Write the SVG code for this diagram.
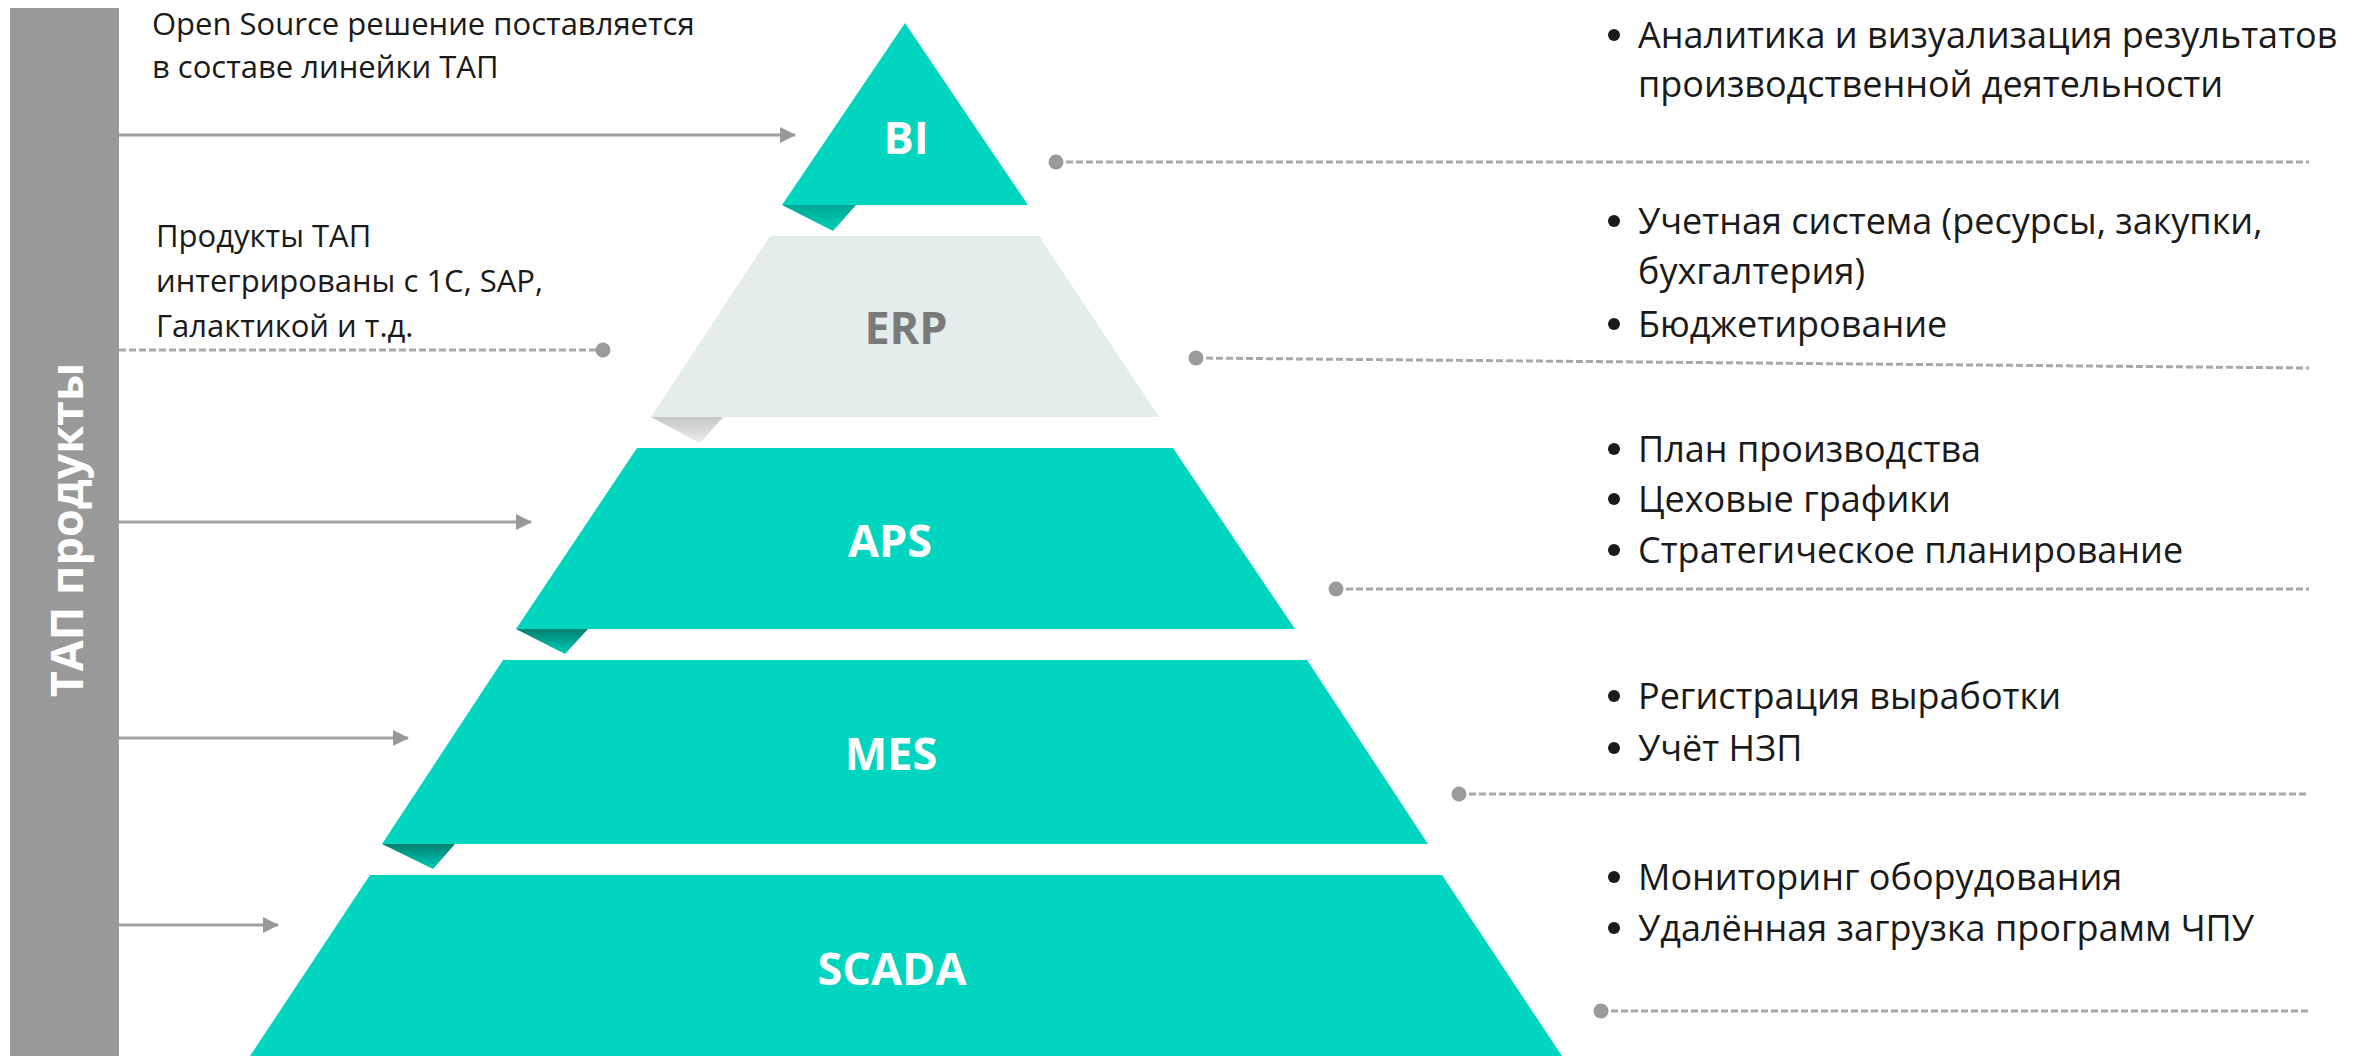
<svg xmlns="http://www.w3.org/2000/svg" width="2361" height="1056" viewBox="0 0 2361 1056">
  <defs>
    <linearGradient id="foldTeal" x1="0" y1="0" x2="0" y2="1">
      <stop offset="0" stop-color="#00806f"/>
      <stop offset="1" stop-color="#00cdb8"/>
    </linearGradient>
    <linearGradient id="foldTealLight" x1="0" y1="0" x2="0" y2="1">
      <stop offset="0" stop-color="#00a793"/>
      <stop offset="1" stop-color="#00d0bb"/>
    </linearGradient>
    <linearGradient id="foldGray" x1="0" y1="0" x2="0" y2="1">
      <stop offset="0" stop-color="#c4c6c6"/>
      <stop offset="1" stop-color="#ececec"/>
    </linearGradient>
    <marker id="arrow" viewBox="0 0 16 16" refX="15" refY="8" markerWidth="16" markerHeight="16" markerUnits="userSpaceOnUse" orient="auto">
      <path d="M0,0 L16,8 L0,16 Z" fill="#999999"/>
    </marker>
  </defs>
  <style>
    .tier { fill: #00d5bf; }
    .tier-erp { fill: #e5edec; }
    .tier-label { font-family: "Open Sans", "Liberation Sans", sans-serif; font-weight: 700; font-size: 45px; fill: #ffffff; text-anchor: middle; }
    .tier-label-erp { fill: #7a7a7a; }
    .note { font-family: "Open Sans", "Liberation Sans", sans-serif; font-size: 31px; fill: #1a1a1a; }
    .desc { font-family: "Open Sans", "Liberation Sans", sans-serif; font-size: 36px; fill: #1a1a1a; }
    .bullet { fill: #1a1a1a; }
    .arrow-line { stroke: #a0a0a0; stroke-width: 3; fill: none; }
    .dash-line { stroke: #a8a8a8; stroke-width: 3; stroke-dasharray: 7 3; fill: none; }
    .dot { fill: #9a9a9a; }
  </style>

  <rect width="2361" height="1056" fill="#ffffff"/>

  <!-- side bar -->
  <g id="side-bar">
    <rect x="10" y="8" width="109" height="1048" fill="#999999"/>
    <text transform="translate(83,530) rotate(-90)" text-anchor="middle" font-family="Open Sans, Liberation Sans, sans-serif" font-weight="700" font-size="45" fill="#ffffff">ТАП продукты</text>
  </g>

  <!-- pyramid tiers -->
  <g id="tier-bi">
    <polygon class="tier" points="905,23 1028,205 782,205"/>
    <polygon fill="url(#foldTealLight)" points="782,205 856,205 833,231"/>
    <text class="tier-label" x="906" y="154">BI</text>
  </g>
  <g id="tier-erp">
    <polygon class="tier-erp" points="770,236 1039,236 1159,417 651,417"/>
    <polygon fill="url(#foldGray)" points="651,417 723,417 700,443"/>
    <text class="tier-label tier-label-erp" x="906" y="344">ERP</text>
  </g>
  <g id="tier-aps">
    <polygon class="tier" points="637,448 1173,448 1295,629 516,629"/>
    <polygon fill="url(#foldTeal)" points="516,629 588,629 565,654"/>
    <text class="tier-label" x="890" y="557">APS</text>
  </g>
  <g id="tier-mes">
    <polygon class="tier" points="503,660 1307,660 1428,844 382,844"/>
    <polygon fill="url(#foldTeal)" points="382,844 455,844 433,869"/>
    <text class="tier-label" x="891" y="770">MES</text>
  </g>
  <g id="tier-scada">
    <polygon class="tier" points="370,875 1442,875 1562,1056 250,1056"/>
    <text class="tier-label" x="892" y="985">SCADA</text>
  </g>

  <!-- left notes -->
  <g id="note-open-source">
    <text class="note" x="152" y="35">Open Source решение поставляется</text>
    <text class="note" x="152" y="78">в составе линейки ТАП</text>
  </g>
  <g id="note-integration">
    <text class="note" x="156" y="247">Продукты ТАП</text>
    <text class="note" x="156" y="292">интегрированы с 1С, SAP,</text>
    <text class="note" x="156" y="337">Галактикой и т.д.</text>
  </g>

  <!-- right descriptions -->
  <g id="desc-bi">
    <circle class="bullet" cx="1614" cy="35" r="6"/>
    <text class="desc" x="1638" y="48">Аналитика и визуализация результатов</text>
    <text class="desc" x="1638" y="97">производственной деятельности</text>
  </g>
  <g id="desc-erp">
    <circle class="bullet" cx="1614" cy="221" r="6"/>
    <text class="desc" x="1638" y="234">Учетная система (ресурсы, закупки,</text>
    <text class="desc" x="1638" y="284">бухгалтерия)</text>
    <circle class="bullet" cx="1614" cy="324" r="6"/>
    <text class="desc" x="1638" y="337">Бюджетирование</text>
  </g>
  <g id="desc-aps">
    <circle class="bullet" cx="1614" cy="449" r="6"/>
    <text class="desc" x="1638" y="462">План производства</text>
    <circle class="bullet" cx="1614" cy="499" r="6"/>
    <text class="desc" x="1638" y="512">Цеховые графики</text>
    <circle class="bullet" cx="1614" cy="550" r="6"/>
    <text class="desc" x="1638" y="563">Стратегическое планирование</text>
  </g>
  <g id="desc-mes">
    <circle class="bullet" cx="1614" cy="696" r="6"/>
    <text class="desc" x="1638" y="709">Регистрация выработки</text>
    <circle class="bullet" cx="1614" cy="748" r="6"/>
    <text class="desc" x="1638" y="761">Учёт НЗП</text>
  </g>
  <g id="desc-scada">
    <circle class="bullet" cx="1614" cy="877" r="6"/>
    <text class="desc" x="1638" y="890">Мониторинг оборудования</text>
    <circle class="bullet" cx="1614" cy="928" r="6"/>
    <text class="desc" x="1638" y="941">Удалённая загрузка программ ЧПУ</text>
  </g>

  <!-- connectors -->
  <g id="connectors">
    <line class="arrow-line" x1="119" y1="135" x2="795" y2="135" marker-end="url(#arrow)"/>
    <line class="arrow-line" x1="119" y1="522" x2="531" y2="522" marker-end="url(#arrow)"/>
    <line class="arrow-line" x1="119" y1="738" x2="408" y2="738" marker-end="url(#arrow)"/>
    <line class="arrow-line" x1="119" y1="925" x2="278" y2="925" marker-end="url(#arrow)"/>

    <line class="dash-line" x1="119" y1="350" x2="603" y2="350"/>
    <circle class="dot" cx="603" cy="350" r="7.5"/>

    <line class="dash-line" x1="1056" y1="162" x2="2309" y2="162"/>
    <circle class="dot" cx="1056" cy="162" r="7.5"/>
    <line class="dash-line" x1="1196" y1="358" x2="2309" y2="368"/>
    <circle class="dot" cx="1196" cy="358" r="7.5"/>
    <line class="dash-line" x1="1336" y1="589" x2="2309" y2="589"/>
    <circle class="dot" cx="1336" cy="589" r="7.5"/>
    <line class="dash-line" x1="1459" y1="794" x2="2309" y2="794"/>
    <circle class="dot" cx="1459" cy="794" r="7.5"/>
    <line class="dash-line" x1="1601" y1="1011" x2="2309" y2="1011"/>
    <circle class="dot" cx="1601" cy="1011" r="7.5"/>
  </g>
</svg>
